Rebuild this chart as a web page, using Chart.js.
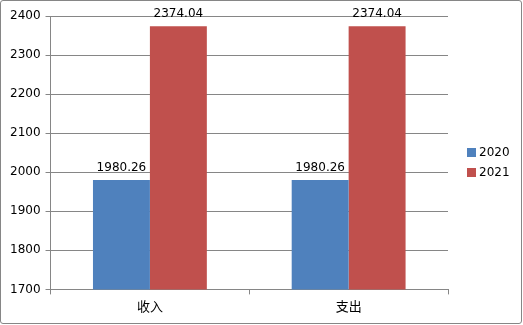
<!DOCTYPE html>
<html>
<head>
<meta charset="utf-8">
<script src="https://cdn.jsdelivr.net/npm/chart.js@4"></script>
<style>
  html, body { margin: 0; padding: 0; background: #fff; }
  #box {
    width: 522px; height: 324px; box-sizing: border-box;
    border: 1px solid #868686; border-radius: 3px; position: relative;
  }
</style>
</head>
<body>
<div id="box"><canvas id="chart"></canvas></div>
<script>
const categories = ['收入', '支出'];
const seriesNames = ['2020', '2021'];
const values2020 = [1980.26, 1980.26];
const values2021 = [2374.04, 2374.04];
const yTicks = { min: 1700, max: 2400, step: 100 };

const axisColor = '#868686';
const font = 'DejaVu Sans';

// draws the value above each bar
const barValues = {
    id: 'barValues',
    afterDatasetsDraw(chart) {
        const c = chart.ctx;
        c.save();
        c.font = '12px "' + font + '"';
        c.fillStyle = '#000';
        c.textAlign = 'center';
        c.textBaseline = 'alphabetic';
        chart.data.datasets.forEach((ds, i) => {
            chart.getDatasetMeta(i).data.forEach((bar, j) => {
                c.fillText(ds.data[j].toFixed(2), bar.x, bar.y - 9);
            });
        });
        c.restore();
    }
};

// legend to the right of the plot, square swatches
const sideLegend = {
    id: 'sideLegend',
    afterDraw(chart) {
        const c = chart.ctx;
        const x = chart.chartArea.right + 19;
        c.save();
        c.font = '12px "' + font + '"';
        c.textBaseline = 'middle';
        c.textAlign = 'left';
        chart.data.datasets.forEach((ds, i) => {
            const y = chart.height / 2 - 9 + i * 20;
            c.fillStyle = ds.backgroundColor;
            c.fillRect(x, y - 5, 9, 9);
            c.fillStyle = '#000';
            c.fillText(ds.label, x + 12, y);
        });
        c.restore();
    }
};

new Chart(document.getElementById('chart'), {
    type: 'bar',
    data: {
        labels: categories,
        datasets: [{
            label: seriesNames[0],
            data: values2020,
            backgroundColor: '#4F81BD',
        }, {
            label: seriesNames[1],
            data: values2021,
            backgroundColor: '#C0504D',
        }]
    },
    options: {
        responsive: true,
        maintainAspectRatio: false,
        animation: false,
        layout: { padding: { top: 15, left: 4, right: 73, bottom: 5 } },
        plugins: {
            tooltip: { enabled: false },
            legend: { display: false }
        },
        datasets: { bar: { categoryPercentage: 0.573, barPercentage: 1 } },
        scales: {
            x: {
                grid: { drawOnChartArea: false, drawTicks: true, tickLength: 5, color: axisColor, offset: true },
                border: { color: axisColor },
                ticks: { color: '#000', font: { family: '"Noto Sans CJK SC"', size: 13 }, padding: 4 }
            },
            y: {
                min: yTicks.min, max: yTicks.max,
                grid: { color: axisColor, tickLength: 5 },
                border: { color: axisColor },
                ticks: {
                    stepSize: yTicks.step, color: '#000', padding: 5,
                    font: { family: font, size: 12 },
                    callback: v => String(v)
                }
            }
        }
    },
    plugins: [barValues, sideLegend]
});
</script>
</body>
</html>
